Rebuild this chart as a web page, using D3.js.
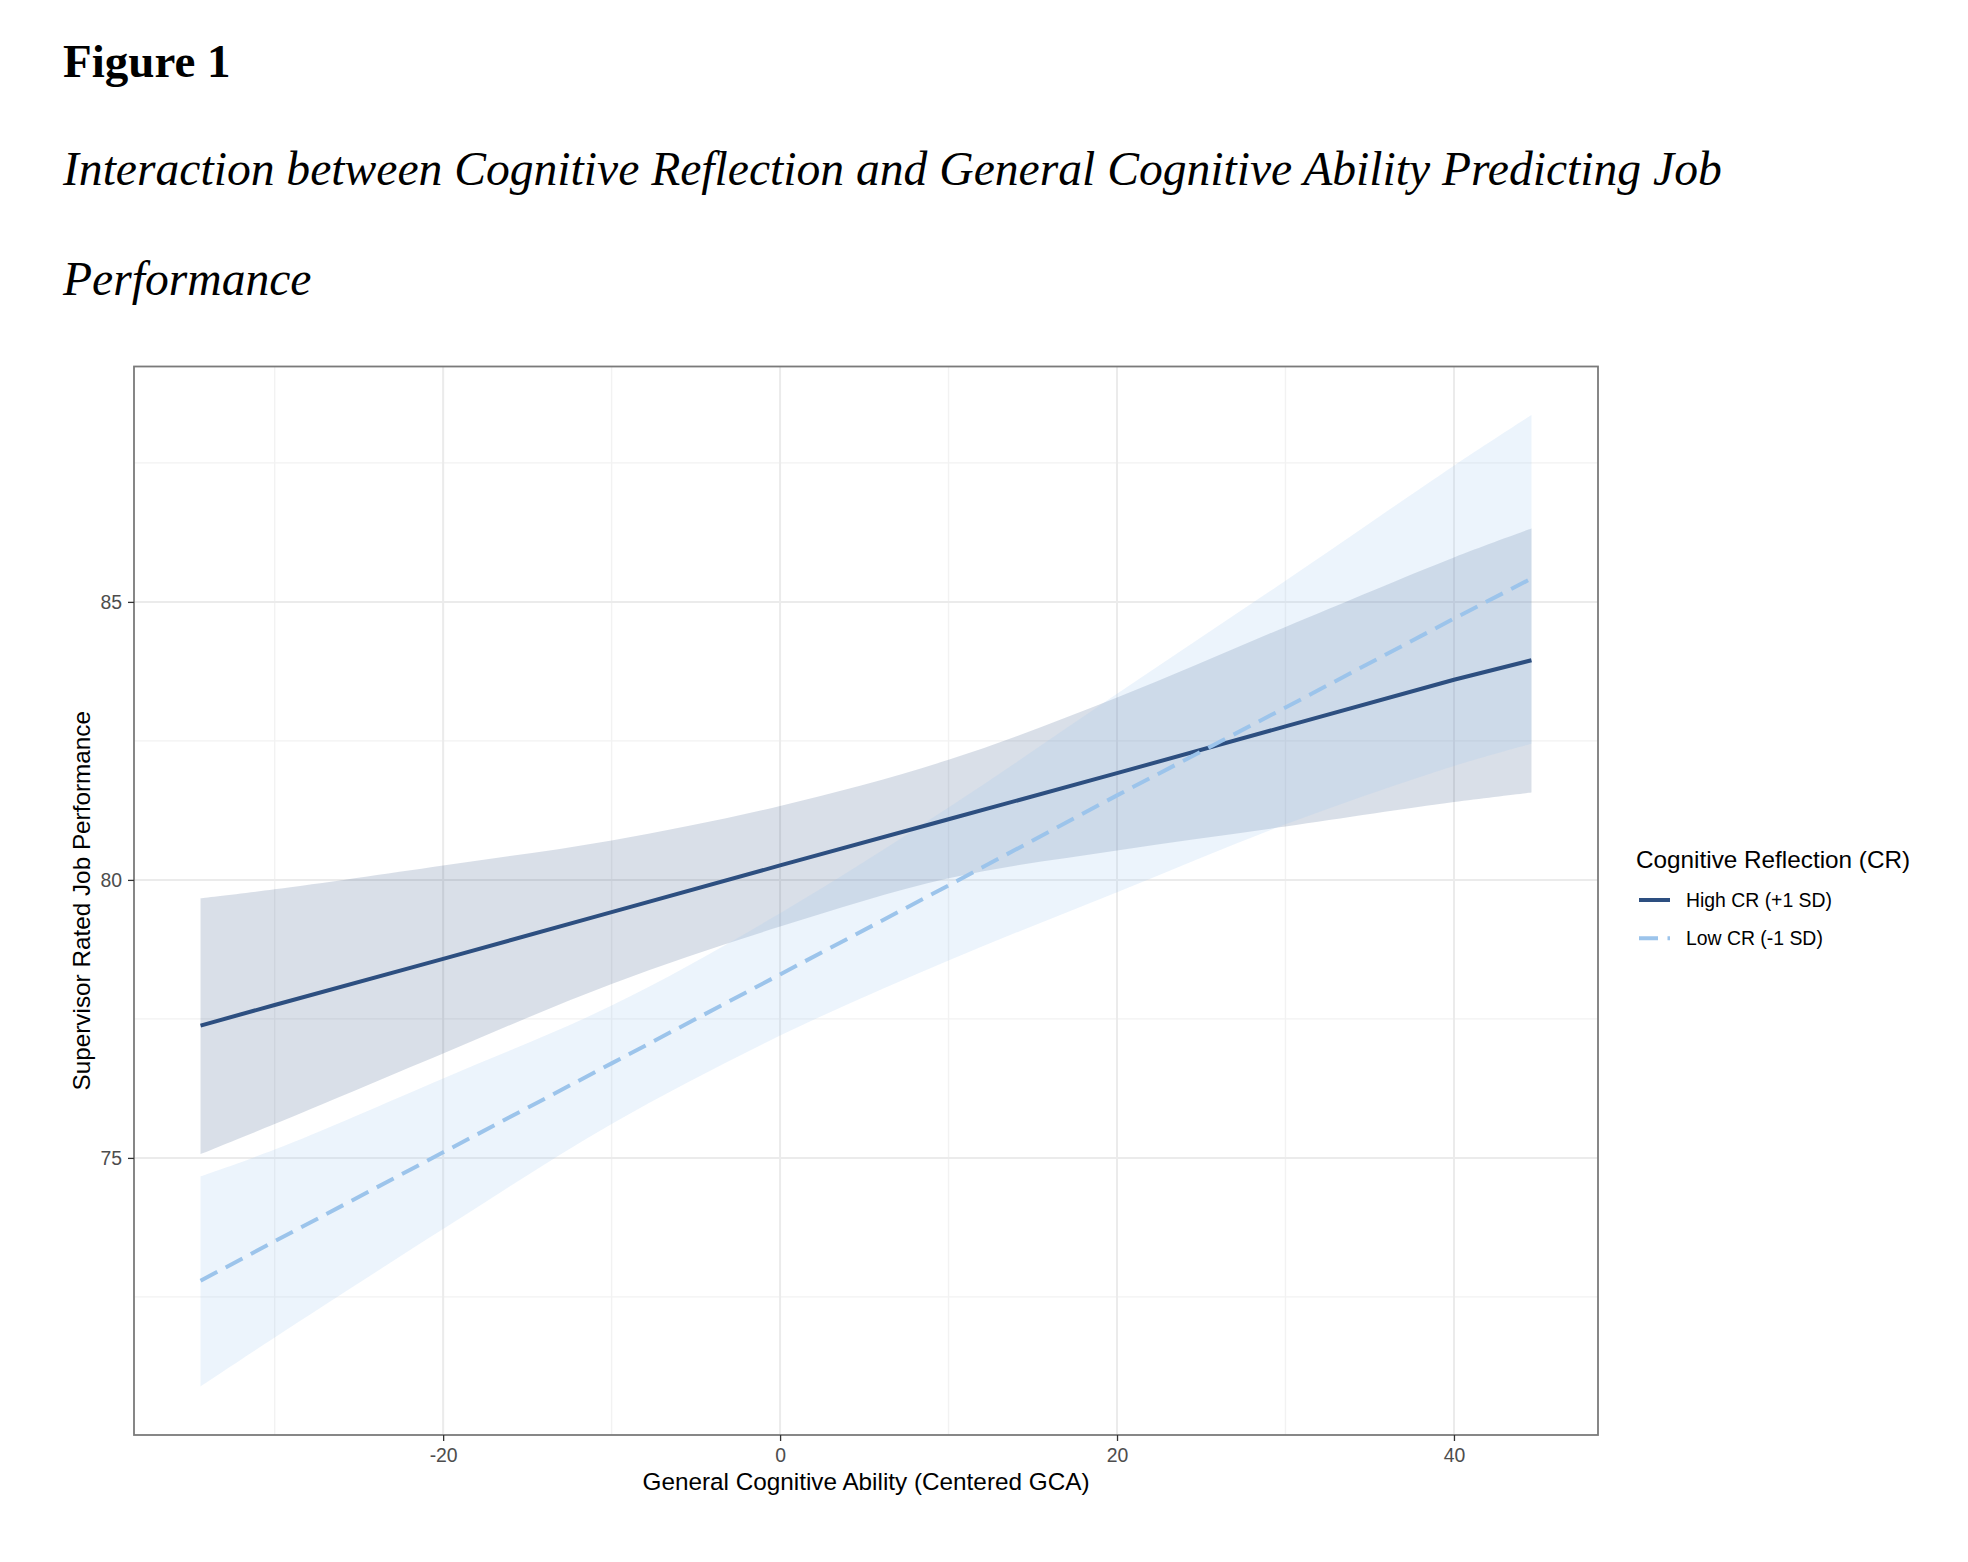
<!DOCTYPE html>
<html lang='en'>
<head>
  <meta charset='UTF-8'>
  <title>Figure 1</title>
  <style>
    body { margin: 0; background: #fff; }
    .caption { font-family: 'Liberation Serif', 'Times New Roman', serif; fill: #000; }
    .plot text { font-family: 'Liberation Sans', Arial, Helvetica, sans-serif; }
    .axis .domain { display: none; }
    .axis line { stroke: #333; stroke-width: 1.3px; }
    .axis text { fill: #4d4d4d; font-size: 19.4px; }
  </style>
</head>
<body>
<div id='chart'></div>
<script src='https://d3js.org/d3.v7.min.js'></script>
<script>
  var gca = [-34.4, -30, -20, -10, 0, 10, 20, 30, 40, 44.6]

  // High CR (+1 SD): fitted line and 95% band
  var highFit = [77.38, 77.75, 78.58, 79.42, 80.26, 81.09, 81.92, 82.76, 83.60, 83.95]
  var highLo  = [75.07, 75.61, 76.88, 78.13, 79.16, 80.03, 80.53, 80.96, 81.40, 81.57]
  var highHi  = [79.67, 79.83, 80.26, 80.71, 81.33, 82.16, 83.28, 84.55, 85.80, 86.32]

  // Low CR (-1 SD)
  var lowFit = [72.79, 73.50, 75.10, 76.70, 78.30, 79.90, 81.52, 83.10, 84.70, 85.42]
  var lowLo  = [70.89, 71.77, 73.72, 75.61, 77.20, 78.55, 79.78, 81.00, 82.05, 82.45]
  var lowHi  = [74.67, 75.15, 76.43, 77.74, 79.40, 81.30, 83.35, 85.38, 87.45, 88.36]

  var seriesNames = ['High CR (+1 SD)', 'Low CR (-1 SD)']

  var xTicks = [-20, 0, 20, 40]
  var xMinor = [-30, -10, 10, 30]
  var yTicks = [75, 80, 85]
  var yMinor = [72.5, 77.5, 82.5, 87.5]

  var W = 1968, H = 1562
  var panel = {left: 134, right: 1598, top: 366.5, bottom: 1435}

  var series = [
    {name: seriesNames[0], fit: highFit, lo: highLo, hi: highHi,
      line: '#2d4f80', fill: '#2c4e7e', alpha: 0.18, dash: null},
    {name: seriesNames[1], fit: lowFit, lo: lowLo, hi: lowHi,
      line: '#9cc4eb', fill: '#9ec8f0', alpha: 0.2, dash: '19,9.5'}
  ]

  var svg = d3.select('#chart').append('svg')
    .attr('width', W).attr('height', H)
    .style('display', 'block')

  svg.append('rect').attr('width', W).attr('height', H).attr('fill', '#fff')

  // caption
  svg.append('text').attr('class', 'caption')
    .attr('x', 63).attr('y', 77)
    .style('font-size', '47px').style('font-weight', 'bold')
    .text('Figure 1')
  var capLines = ['Interaction between Cognitive Reflection and General Cognitive Ability Predicting Job', 'Performance']
  svg.selectAll('.capline').data(capLines).enter().append('text')
    .attr('class', 'caption capline')
    .attr('x', 63).attr('y', function (d, i) { return 185 + i * 110 })
    .style('font-size', '47.6px').style('font-style', 'italic')
    .text(function (d) { return d })

  // scales with ggplot style 5% expansion
  var xExt = d3.extent(gca)
  var xPad = (xExt[1] - xExt[0]) * 0.05
  var allY = highLo.concat(highHi, lowLo, lowHi)
  var yExt = d3.extent(allY)
  var yPad = (yExt[1] - yExt[0]) * 0.05

  var x = d3.scaleLinear().domain([xExt[0] - xPad, xExt[1] + xPad]).range([panel.left, panel.right])
  var y = d3.scaleLinear().domain([yExt[0] - yPad, yExt[1] + yPad]).range([panel.bottom, panel.top])

  var plot = svg.append('g').attr('class', 'plot')

  var clipId = 'panelClip'
  plot.append('defs').append('clipPath').attr('id', clipId)
    .append('rect')
    .attr('x', panel.left).attr('y', panel.top)
    .attr('width', panel.right - panel.left).attr('height', panel.bottom - panel.top)

  // grid lines
  var grid = plot.append('g')
  grid.selectAll('.vmin').data(xMinor).enter().append('line')
    .attr('x1', x).attr('x2', x).attr('y1', panel.top).attr('y2', panel.bottom)
    .attr('stroke', '#f2f2f2').attr('stroke-width', 1.4)
  grid.selectAll('.hmin').data(yMinor).enter().append('line')
    .attr('y1', y).attr('y2', y).attr('x1', panel.left).attr('x2', panel.right)
    .attr('stroke', '#f2f2f2').attr('stroke-width', 1.4)
  grid.selectAll('.vmaj').data(xTicks).enter().append('line')
    .attr('x1', x).attr('x2', x).attr('y1', panel.top).attr('y2', panel.bottom)
    .attr('stroke', '#ebebeb').attr('stroke-width', 2)
  grid.selectAll('.hmaj').data(yTicks).enter().append('line')
    .attr('y1', y).attr('y2', y).attr('x1', panel.left).attr('x2', panel.right)
    .attr('stroke', '#ebebeb').attr('stroke-width', 2)

  var marks = plot.append('g').attr('clip-path', 'url(#' + clipId + ')')

  var area = function (s) {
    return d3.area()
      .x(function (d, i) { return x(gca[i]) })
      .y0(function (d, i) { return y(s.lo[i]) })
      .y1(function (d, i) { return y(s.hi[i]) })
      .curve(d3.curveCatmullRom.alpha(0.5))(gca)
  }
  var line = function (s) {
    return d3.line()
      .x(function (d, i) { return x(gca[i]) })
      .y(function (d, i) { return y(s.fit[i]) })(gca)
  }

  // ribbons first, then the lines
  series.forEach(function (s) {
    marks.append('path')
      .attr('d', area(s))
      .attr('fill', s.fill)
      .attr('fill-opacity', s.alpha)
  })
  series.forEach(function (s) {
    marks.append('path')
      .attr('d', line(s))
      .attr('fill', 'none')
      .attr('stroke', s.line)
      .attr('stroke-width', 4)
      .attr('stroke-dasharray', s.dash)
  })

  // panel border
  plot.append('rect')
    .attr('x', panel.left).attr('y', panel.top)
    .attr('width', panel.right - panel.left).attr('height', panel.bottom - panel.top)
    .attr('fill', 'none').attr('stroke', '#7a7a7a').attr('stroke-width', 1.8)

  // axes
  var fmt = function (d) { return String(d) }
  plot.append('g').attr('class', 'axis')
    .attr('transform', 'translate(0,' + panel.bottom + ')')
    .call(d3.axisBottom(x).tickValues(xTicks).tickFormat(fmt).tickSize(6).tickSizeOuter(0).tickPadding(7))
    .selectAll('text').attr('dy', '0.71em')

  plot.append('g').attr('class', 'axis')
    .attr('transform', 'translate(' + panel.left + ',0)')
    .call(d3.axisLeft(y).tickValues(yTicks).tickFormat(fmt).tickSize(6).tickSizeOuter(0).tickPadding(6))

  plot.append('text')
    .attr('x', (panel.left + panel.right) / 2).attr('y', 1490)
    .attr('text-anchor', 'middle')
    .style('font-size', '24.3px').attr('fill', '#000')
    .text('General Cognitive Ability (Centered GCA)')

  plot.append('text')
    .attr('transform', 'translate(89.5,' + (panel.top + panel.bottom) / 2 + ') rotate(-90)')
    .attr('text-anchor', 'middle')
    .style('font-size', '24.3px').attr('fill', '#000')
    .text('Supervisor Rated Job Performance')

  // legend
  var legend = plot.append('g').attr('transform', 'translate(1636,0)')
  legend.append('text')
    .attr('x', 0).attr('y', 868)
    .style('font-size', '24.3px').attr('fill', '#000')
    .text('Cognitive Reflection (CR)')

  var item = legend.selectAll('.item').data(series).enter().append('g')
    .attr('transform', function (d, i) { return 'translate(0,' + (900 + i * 38.3) + ')' })
  item.append('line')
    .attr('x1', 3).attr('x2', 34).attr('y1', 0).attr('y2', 0)
    .attr('stroke', function (d) { return d.line })
    .attr('stroke-width', 4)
    .attr('stroke-dasharray', function (d) { return d.dash })
  item.append('text')
    .attr('x', 50).attr('y', 0).attr('dy', '0.36em')
    .style('font-size', '19.4px').attr('fill', '#000')
    .text(function (d) { return d.name })
</script>
</body>
</html>
